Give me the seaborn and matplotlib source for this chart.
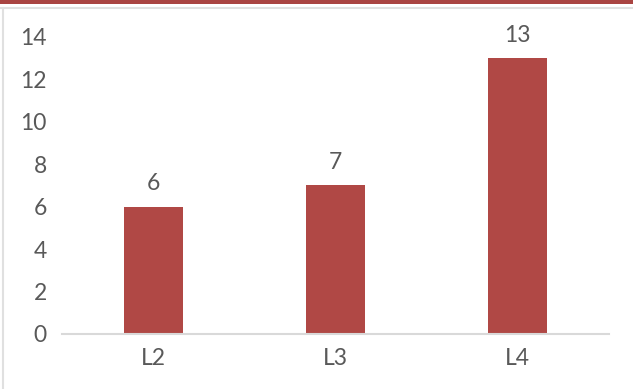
import matplotlib
matplotlib.use("Agg")
import matplotlib.pyplot as plt
from matplotlib.patches import Rectangle
from matplotlib.lines import Line2D
import seaborn as sns
import pandas as pd

categories = ["L2", "L3", "L4"]
values = [6, 7, 13]
y_ticks = [0, 2, 4, 6, 8, 10, 12, 14]

bar_color = "#B04845"
text_color = "#595959"
font_size = 16.5

sns.set_theme(style="white")
plt.rcParams["font.family"] = ["Lato", "DejaVu Sans"]

df = pd.DataFrame({"level": categories, "count": values})

fig = plt.figure(figsize=(6.33, 3.89), dpi=100)
ax = fig.add_axes([0.098, 0.1414, 0.864, 0.7635])

sns.barplot(data=df, x="level", y="count", color=bar_color, width=0.325,
            saturation=1, linewidth=0, ax=ax)

ax.set_ylim(0, 14)
ax.set_yticks(y_ticks)
ax.set_yticklabels([str(t) for t in y_ticks], fontsize=font_size, color=text_color)
ax.set_xlim(-0.5, len(categories) - 0.5)
ax.set_xlabel("")
ax.set_ylabel("")
for lbl in ax.get_xticklabels():
    lbl.set_fontsize(font_size)
    lbl.set_color(text_color)
ax.tick_params(axis="y", length=0, pad=11)
ax.tick_params(axis="x", length=0, pad=10)

for s in ["top", "right", "left"]:
    ax.spines[s].set_visible(False)
ax.spines["bottom"].set_color("#D9D9D9")
ax.spines["bottom"].set_linewidth(1.5)

for container in ax.containers:
    ax.bar_label(container, labels=[str(v) for v in values], padding=9,
                 fontsize=font_size, color=text_color)

# frame decoration: red band on top, thin gray rules
fig.add_artist(Rectangle((0, 1 - 3.5 / 389), 1, 3.5 / 389, transform=fig.transFigure,
                         color="#A94442", lw=0))
fig.add_artist(Line2D([0, 1], [1 - 7.5 / 389] * 2, transform=fig.transFigure,
                      color="#E0E0E0", lw=1.5))
fig.add_artist(Line2D([2.5 / 633] * 2, [0, 1 - 7.5 / 389], transform=fig.transFigure,
                      color="#E0E0E0", lw=1.5))

fig.savefig("out.png", dpi=100)
